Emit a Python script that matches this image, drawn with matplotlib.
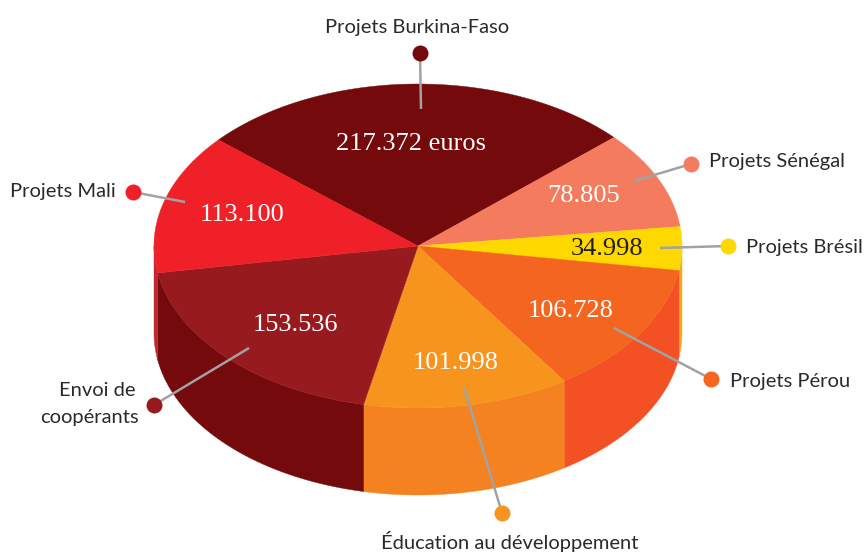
import matplotlib
matplotlib.use('Agg')
import matplotlib.pyplot as plt
import numpy as np

# Budget per project, euros (clockwise from the top-left edge of Burkina-Faso)
names = ['Projets Burkina-Faso', 'Projets Sénégal', 'Projets Brésil', 'Projets Pérou',
         'Éducation au développement', 'Envoi de\ncoopérants', 'Projets Mali']
values = [217372, 78805, 34998, 106728, 101998, 153536, 113100]

top_colors = ['#750A0C', '#F47B5E', '#FFD800', '#F46520', '#F7941D', '#971B1E', '#EF2027']
side_colors = ['#750A0C', '#F47B5E', '#F9A81A', '#F35023', '#F58220', '#750A0C', '#C1272D']

# pie geometry in pixels
cx, cy = 418, 246
rx, ry = 264, 162
depth = 87
start = 139.1

# dot, end of leader line, number position, name position + alignment
dots = [(420, 53), (691, 164), (728, 246), (711, 379), (502, 513), (154, 405), (133, 192)]
line_ends = [(421, 109), (634, 181), (660, 248), (614, 328), (464, 387), (249, 348), (185, 202)]
num_pos = [(411, 144), (584, 196), (607, 249), (571, 311), (456, 363), (295, 325), (242, 215)]
name_pos = [(417, 28, 'center'), (709, 161, 'left'), (746, 248, 'left'), (730, 381, 'left'),
            (510, 542, 'center'), (139, 404, 'right'), (116, 191, 'right')]

fig = plt.figure(figsize=(8.66, 5.52), dpi=100)
ax = fig.add_axes([0, 0, 1, 1])
ax.set_xlim(0, 866)
ax.set_ylim(552, 0)
ax.axis('off')


def ellipse(theta):
    t = np.radians(theta)
    return cx + rx * np.cos(t), cy - ry * np.sin(t)


# wedge edges, going clockwise
edges = start - np.cumsum([0] + values) / sum(values) * 360

# the sides first, only the front half of the ellipse can be seen
for i in range(len(values)):
    for shift in [0, 360]:
        a = min(edges[i] + shift, 0)
        b = max(edges[i + 1] + shift, -180)
        if a <= b:
            continue
        theta = np.linspace(a, b, 80)
        x, y = ellipse(theta)
        ax.fill(np.r_[x, x[::-1]], np.r_[y, y[::-1] + depth], color=side_colors[i], lw=0.3, zorder=1)

# top of the pie
for i in range(len(values)):
    theta = np.linspace(edges[i], edges[i + 1], 150)
    x, y = ellipse(theta)
    ax.fill(np.r_[cx, x], np.r_[cy, y], color=top_colors[i], lw=0.3, zorder=2)

for i in range(len(values)):
    ax.plot([dots[i][0], line_ends[i][0]], [dots[i][1], line_ends[i][1]],
            color='#A0A2A5', lw=1.8, solid_capstyle='butt', zorder=3)
    ax.plot(*dots[i], 'o', ms=11.5, mfc=top_colors[i], mec='none', zorder=4)

    txt = f'{values[i]:,}'.replace(',', '.')
    if i == 0:
        txt += ' euros'
    ax.text(num_pos[i][0], num_pos[i][1], txt, family='Liberation Serif', fontsize=19,
            color='#231F20' if i == 2 else 'white', ha='center', va='center', zorder=5)

    px, py, ha = name_pos[i]
    if '\n' in names[i]:
        first, second = names[i].split('\n')
        ax.text(97, 391, first, family='Lato', fontsize=14.5, color='#2B2A29', ha='center', va='center')
        ax.text(89.5, 418, second, family='Lato', fontsize=14.5, color='#2B2A29', ha='center', va='center')
    else:
        ax.text(px, py, names[i], family='Lato', fontsize=14.5, color='#2B2A29', ha=ha, va='center')

fig.savefig('out.png', dpi=100)
